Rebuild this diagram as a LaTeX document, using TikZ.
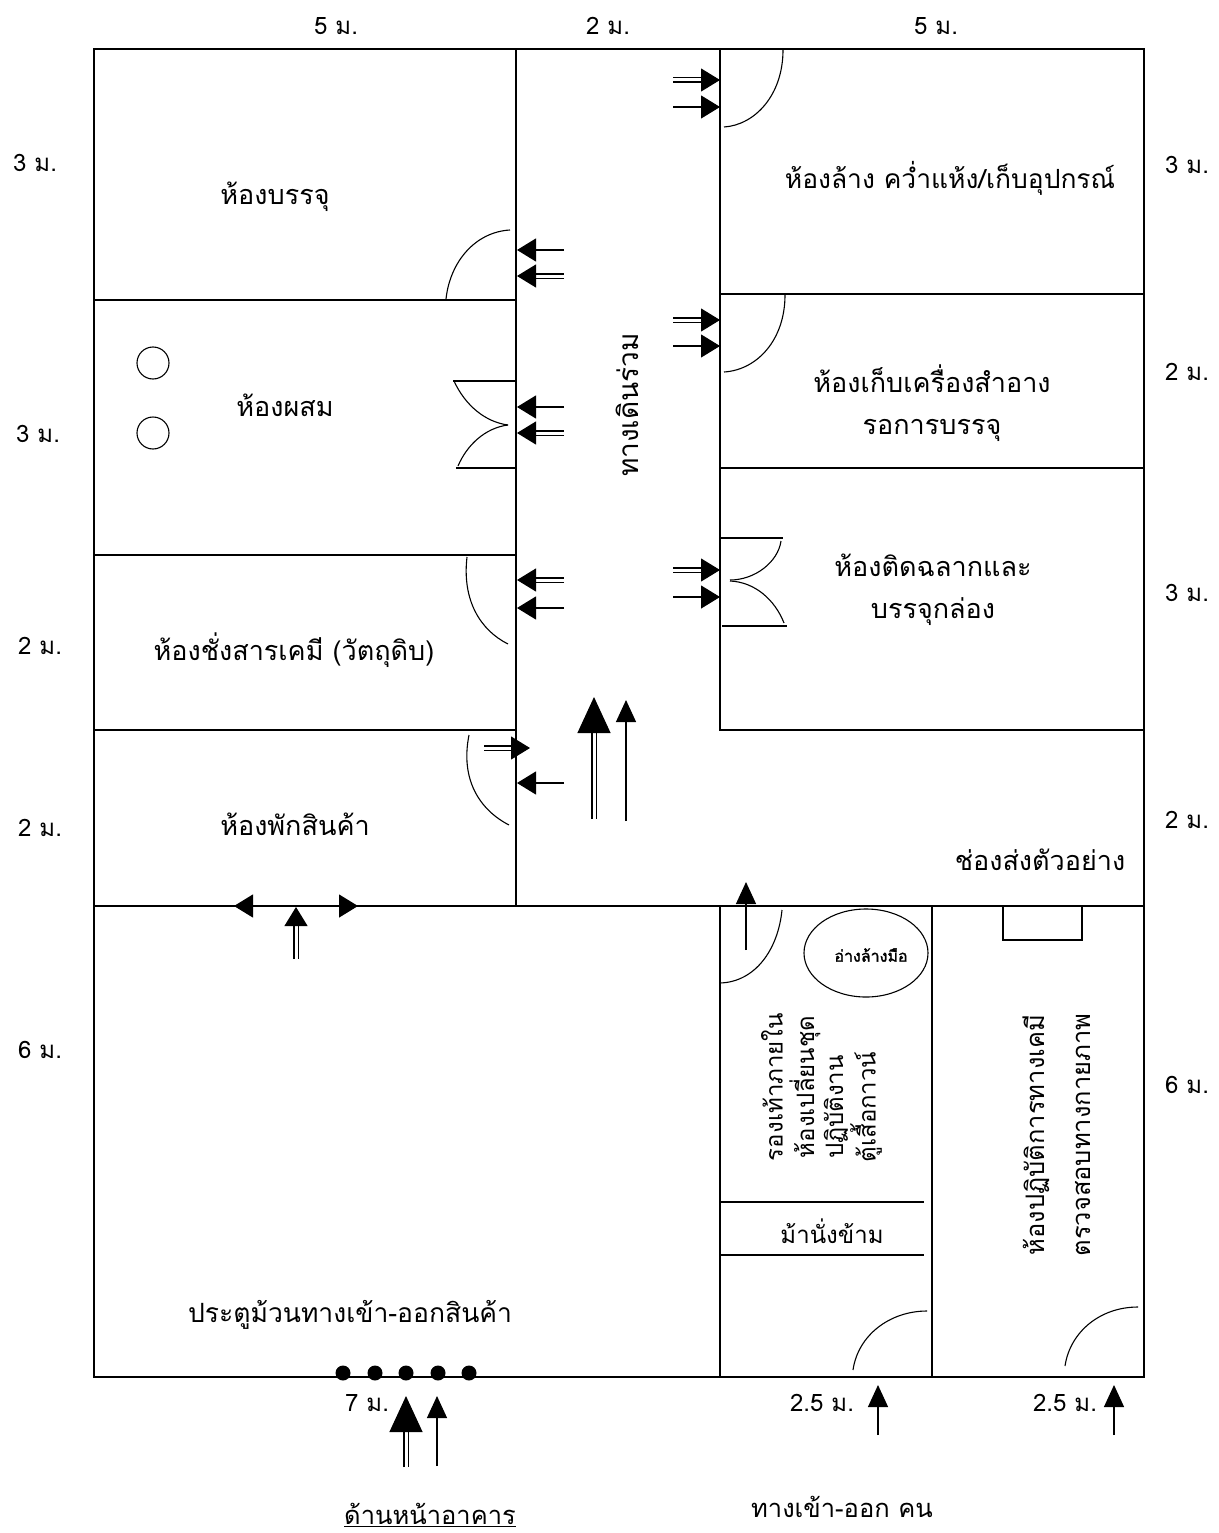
\documentclass[tikz,border=0pt]{standalone}
\usepackage{fontspec}
\usetikzlibrary{arrows.meta}
\newfontfamily\thaifont[Script=Thai]{Loma}
\newfontfamily\thaibold[Script=Thai,FakeBold=1.6]{Loma}
\newcommand{\fsz}[1]{\thaifont\fontsize{#1}{#1}\selectfont}
\tikzset{
  wall/.style={line width=1.4pt,line cap=rect,black},
  door/.style={line width=1.1pt,black},
  sarr/.style={line width=1.2pt,-{Triangle[length=19pt,width=23pt]}},
  darr/.style={line width=1.1pt,double,double distance=3pt,-{Triangle[length=19pt,width=23pt]}},
  bigs/.style={line width=1.2pt,-{Triangle[length=22pt,width=20pt]}},
  bigd/.style={line width=1.1pt,double,double distance=3pt,-{Triangle[length=36pt,width=33pt]}},
  txt/.style={font=\thaifont\fontsize{27}{36}\selectfont,align=center,inner sep=0pt},
  dim/.style={font=\thaifont\fontsize{24}{28}\selectfont,inner sep=0pt},
  dot/.style={circle,fill=black,minimum size=15pt,inner sep=0pt},
}
\begin{document}
\begin{tikzpicture}[x=1pt,y=-1pt]
\useasboundingbox (0,0) rectangle (1218,1533);
\fill[white] (0,0) rectangle (1218,1533);
% walls
\draw[wall] (94,49) rectangle (1144,1377);
\draw[wall] (516,49) -- (516,906);
\draw[wall] (720,49) -- (720,730) -- (1144,730);
\draw[wall] (94,300) -- (516,300);
\draw[wall] (94,555) -- (516,555);
\draw[wall] (94,730) -- (516,730);
\draw[wall] (720,294) -- (1144,294);
\draw[wall] (720,468) -- (1144,468);
\draw[wall] (94,906) -- (1144,906);
\draw[wall] (720,906) -- (720,1377);
\draw[wall] (932,906) -- (932,1377);
\draw[wall] (720,1202) -- (923,1202);
\draw[wall] (720,1255) -- (923,1255);
\draw[door] (1003,906) -- (1003,940) -- (1082,940) -- (1082,906);
% fixtures
\node[draw,line width=1.1pt,circle,minimum size=32pt,inner sep=0pt] (tank1) at (153,363) {};
\node[draw,line width=1.1pt,circle,minimum size=32pt,inner sep=0pt] (tank2) at (153,433) {};
\draw[door] (866,953) ellipse [x radius=62,y radius=44];
% doors
\draw[door] (783,50) .. controls (783,95) and (755,125) .. (724,127);
\draw[door] (785,295) .. controls (785,340) and (757,370) .. (724,372);
\draw[door] (446,299) .. controls (450,262) and (475,232) .. (510,230);
\draw[wall] (454,381) -- (516,381);
\draw[wall] (457,468) -- (516,468);
\draw[door] (454,381) .. controls (465,405) and (485,422) .. (508,425);
\draw[door] (508,425) .. controls (485,428) and (467,445) .. (458,466);
\draw[door] (467,557) .. controls (462,600) and (480,630) .. (508,644);
\draw[door] (469,735) .. controls (460,780) and (480,810) .. (509,825);
\draw[wall] (720,538) -- (782,538);
\draw[wall] (723,626) -- (786,626);
\draw[door] (781,541) .. controls (778,562) and (755,580) .. (730,580);
\draw[door] (730,581) .. controls (755,582) and (775,600) .. (784,623);
\draw[door] (782,910) .. controls (778,950) and (755,982) .. (720,983);
\draw[door] (853,1370) .. controls (858,1335) and (890,1311) .. (927,1311);
\draw[door] (1065,1366) .. controls (1070,1332) and (1100,1307) .. (1138,1307);
% roller door dots
\foreach \i/\x in {1/343,2/375,3/406,4/438,5/469}
  \node[dot] (rd\i) at (\x,1373) {};
% arrows
\coordinate (a1) at (673,80);  \coordinate (a1e) at (720,80);  \draw[darr] (a1) -- (a1e);
\coordinate (a2) at (673,107); \coordinate (a2e) at (720,107); \draw[sarr] (a2) -- (a2e);
\coordinate (a3) at (673,320); \coordinate (a3e) at (720,320); \draw[darr] (a3) -- (a3e);
\coordinate (a4) at (673,346); \coordinate (a4e) at (720,346); \draw[sarr] (a4) -- (a4e);
\coordinate (a5) at (673,570); \coordinate (a5e) at (720,570); \draw[darr] (a5) -- (a5e);
\coordinate (a6) at (673,597); \coordinate (a6e) at (720,597); \draw[sarr] (a6) -- (a6e);
\coordinate (b1) at (564,250); \coordinate (b1e) at (517,250); \draw[sarr] (b1) -- (b1e);
\coordinate (b2) at (564,276); \coordinate (b2e) at (517,276); \draw[darr] (b2) -- (b2e);
\coordinate (b3) at (564,407); \coordinate (b3e) at (517,407); \draw[sarr] (b3) -- (b3e);
\coordinate (b4) at (564,433); \coordinate (b4e) at (517,433); \draw[darr] (b4) -- (b4e);
\coordinate (b5) at (564,580); \coordinate (b5e) at (517,580); \draw[darr] (b5) -- (b5e);
\coordinate (b6) at (564,608); \coordinate (b6e) at (517,608); \draw[sarr] (b6) -- (b6e);
\coordinate (b7) at (564,783); \coordinate (b7e) at (517,783); \draw[sarr] (b7) -- (b7e);
\coordinate (c1) at (484,748); \coordinate (c1e) at (530,748); \draw[darr] (c1) -- (c1e);
\coordinate (d1) at (594,819); \coordinate (d1e) at (594,697); \draw[bigd] (d1) -- (d1e);
\coordinate (d2) at (626,821); \coordinate (d2e) at (626,700); \draw[bigs] (d2) -- (d2e);
\coordinate (e1) at (406,1467); \coordinate (e1e) at (406,1396); \draw[bigd] (e1) -- (e1e);
\coordinate (e2) at (437,1466); \coordinate (e2e) at (437,1396); \draw[bigs] (e2) -- (e2e);
\coordinate (f1) at (878,1435); \coordinate (f1e) at (878,1385); \draw[bigs] (f1) -- (f1e);
\coordinate (f2) at (1114,1435); \coordinate (f2e) at (1114,1385); \draw[bigs] (f2) -- (f2e);
\coordinate (g1) at (746,950); \coordinate (g1e) at (746,882); \draw[bigs] (g1) -- (g1e);
\coordinate (h1) at (296,959); \coordinate (h1e) at (296,907); \draw[darr] (h1) -- (h1e);
\coordinate (h2) at (255,906); \coordinate (h2e) at (234,906); \draw[sarr] (h2) -- (h2e);
\coordinate (h3) at (340,906); \coordinate (h3e) at (358,906); \draw[sarr] (h3) -- (h3e);
% dimensions
\node[dim] (t1) at (336,26) {5 ม.};
\node[dim] (t2) at (608,26) {2 ม.};
\node[dim] (t3) at (936,26) {5 ม.};
\node[dim] (l1) at (35,163) {3 ม.};
\node[dim] (l2) at (38,434) {3 ม.};
\node[dim] (l3) at (40,646) {2 ม.};
\node[dim] (l4) at (40,828) {2 ม.};
\node[dim] (l5) at (40,1050) {6 ม.};
\node[dim] (r1) at (1187,165) {3 ม.};
\node[dim] (r2) at (1187,372) {2 ม.};
\node[dim] (r3) at (1187,593) {3 ม.};
\node[dim] (r4) at (1187,820) {2 ม.};
\node[dim] (r5) at (1187,1085) {6 ม.};
\node[dim] (b1t) at (367,1403) {7 ม.};
\node[dim] (b2t) at (822,1403) {2.5 ม.};
\node[dim] (b3t) at (1065,1403) {2.5 ม.};
% rooms
\node[txt] (n1) at (275,197) {ห้องบรรจุ};
\node[txt] (n2) at (285,405) {ห้องผสม};
\node[txt] (n3) at (294,650) {ห้องชั่งสารเคมี (วัตถุดิบ)};
\node[txt] (n4) at (295,824) {ห้องพักสินค้า};
\node[txt] (n5) at (1040,860) {ช่องส่งตัวอย่าง};
\node[txt,font=\fsz{26.4}] (n6) at (950,178) {ห้องล้าง คว่ำแห้ง/เก็บอุปกรณ์};
\node[txt] (n7) at (932,403) {ห้องเก็บเครื่องสำอาง\\[6pt]รอการบรรจุ};
\node[txt] (n8) at (933,590) {ห้องติดฉลากและ\\[6pt]บรรจุกล่อง};
\node[txt,font=\fsz{24}] (n9) at (832,1231) {ม้านั่งข้าม};
\node[txt,font=\fsz{26.5}] (n10) at (350,1315) {ประตูม้วนทางเข้า-ออกสินค้า};
\node[font=\thaibold\fontsize{16}{18}\selectfont,inner sep=0pt] (n11) at (871,955) {อ่างล้างมือ};
\node[txt,rotate=90,font=\fsz{28}] (n12) at (627,405) {ทางเดินร่วม};
\node[txt,rotate=90,font=\fsz{24}] (n13) at (772,1087) {รองเท้าภายใน};
\node[txt,rotate=90,font=\fsz{24}] (n14) at (805,1087) {ห้องเปลี่ยนชุด};
\node[txt,rotate=90,font=\fsz{24}] (n15) at (836,1107) {ปฏิบัติงาน};
\node[txt,rotate=90,font=\fsz{24}] (n16) at (866,1107) {ตู้เสื้อกาวน์};
\node[txt,rotate=90,font=\fsz{25.5}] (n17) at (1036,1135) {ห้องปฏิบัติการทางเคมี};
\node[txt,rotate=90,font=\fsz{25.5}] (n18) at (1083,1135) {ตรวจสอบทางกายภาพ};
\node[txt,font=\fsz{25.5}] (n19) at (430,1515) {\underline{ด้านหน้าอาคาร}};
\node[txt,font=\fsz{25.5}] (n20) at (842,1507) {ทางเข้า-ออก คน};
\end{tikzpicture}
\end{document}
